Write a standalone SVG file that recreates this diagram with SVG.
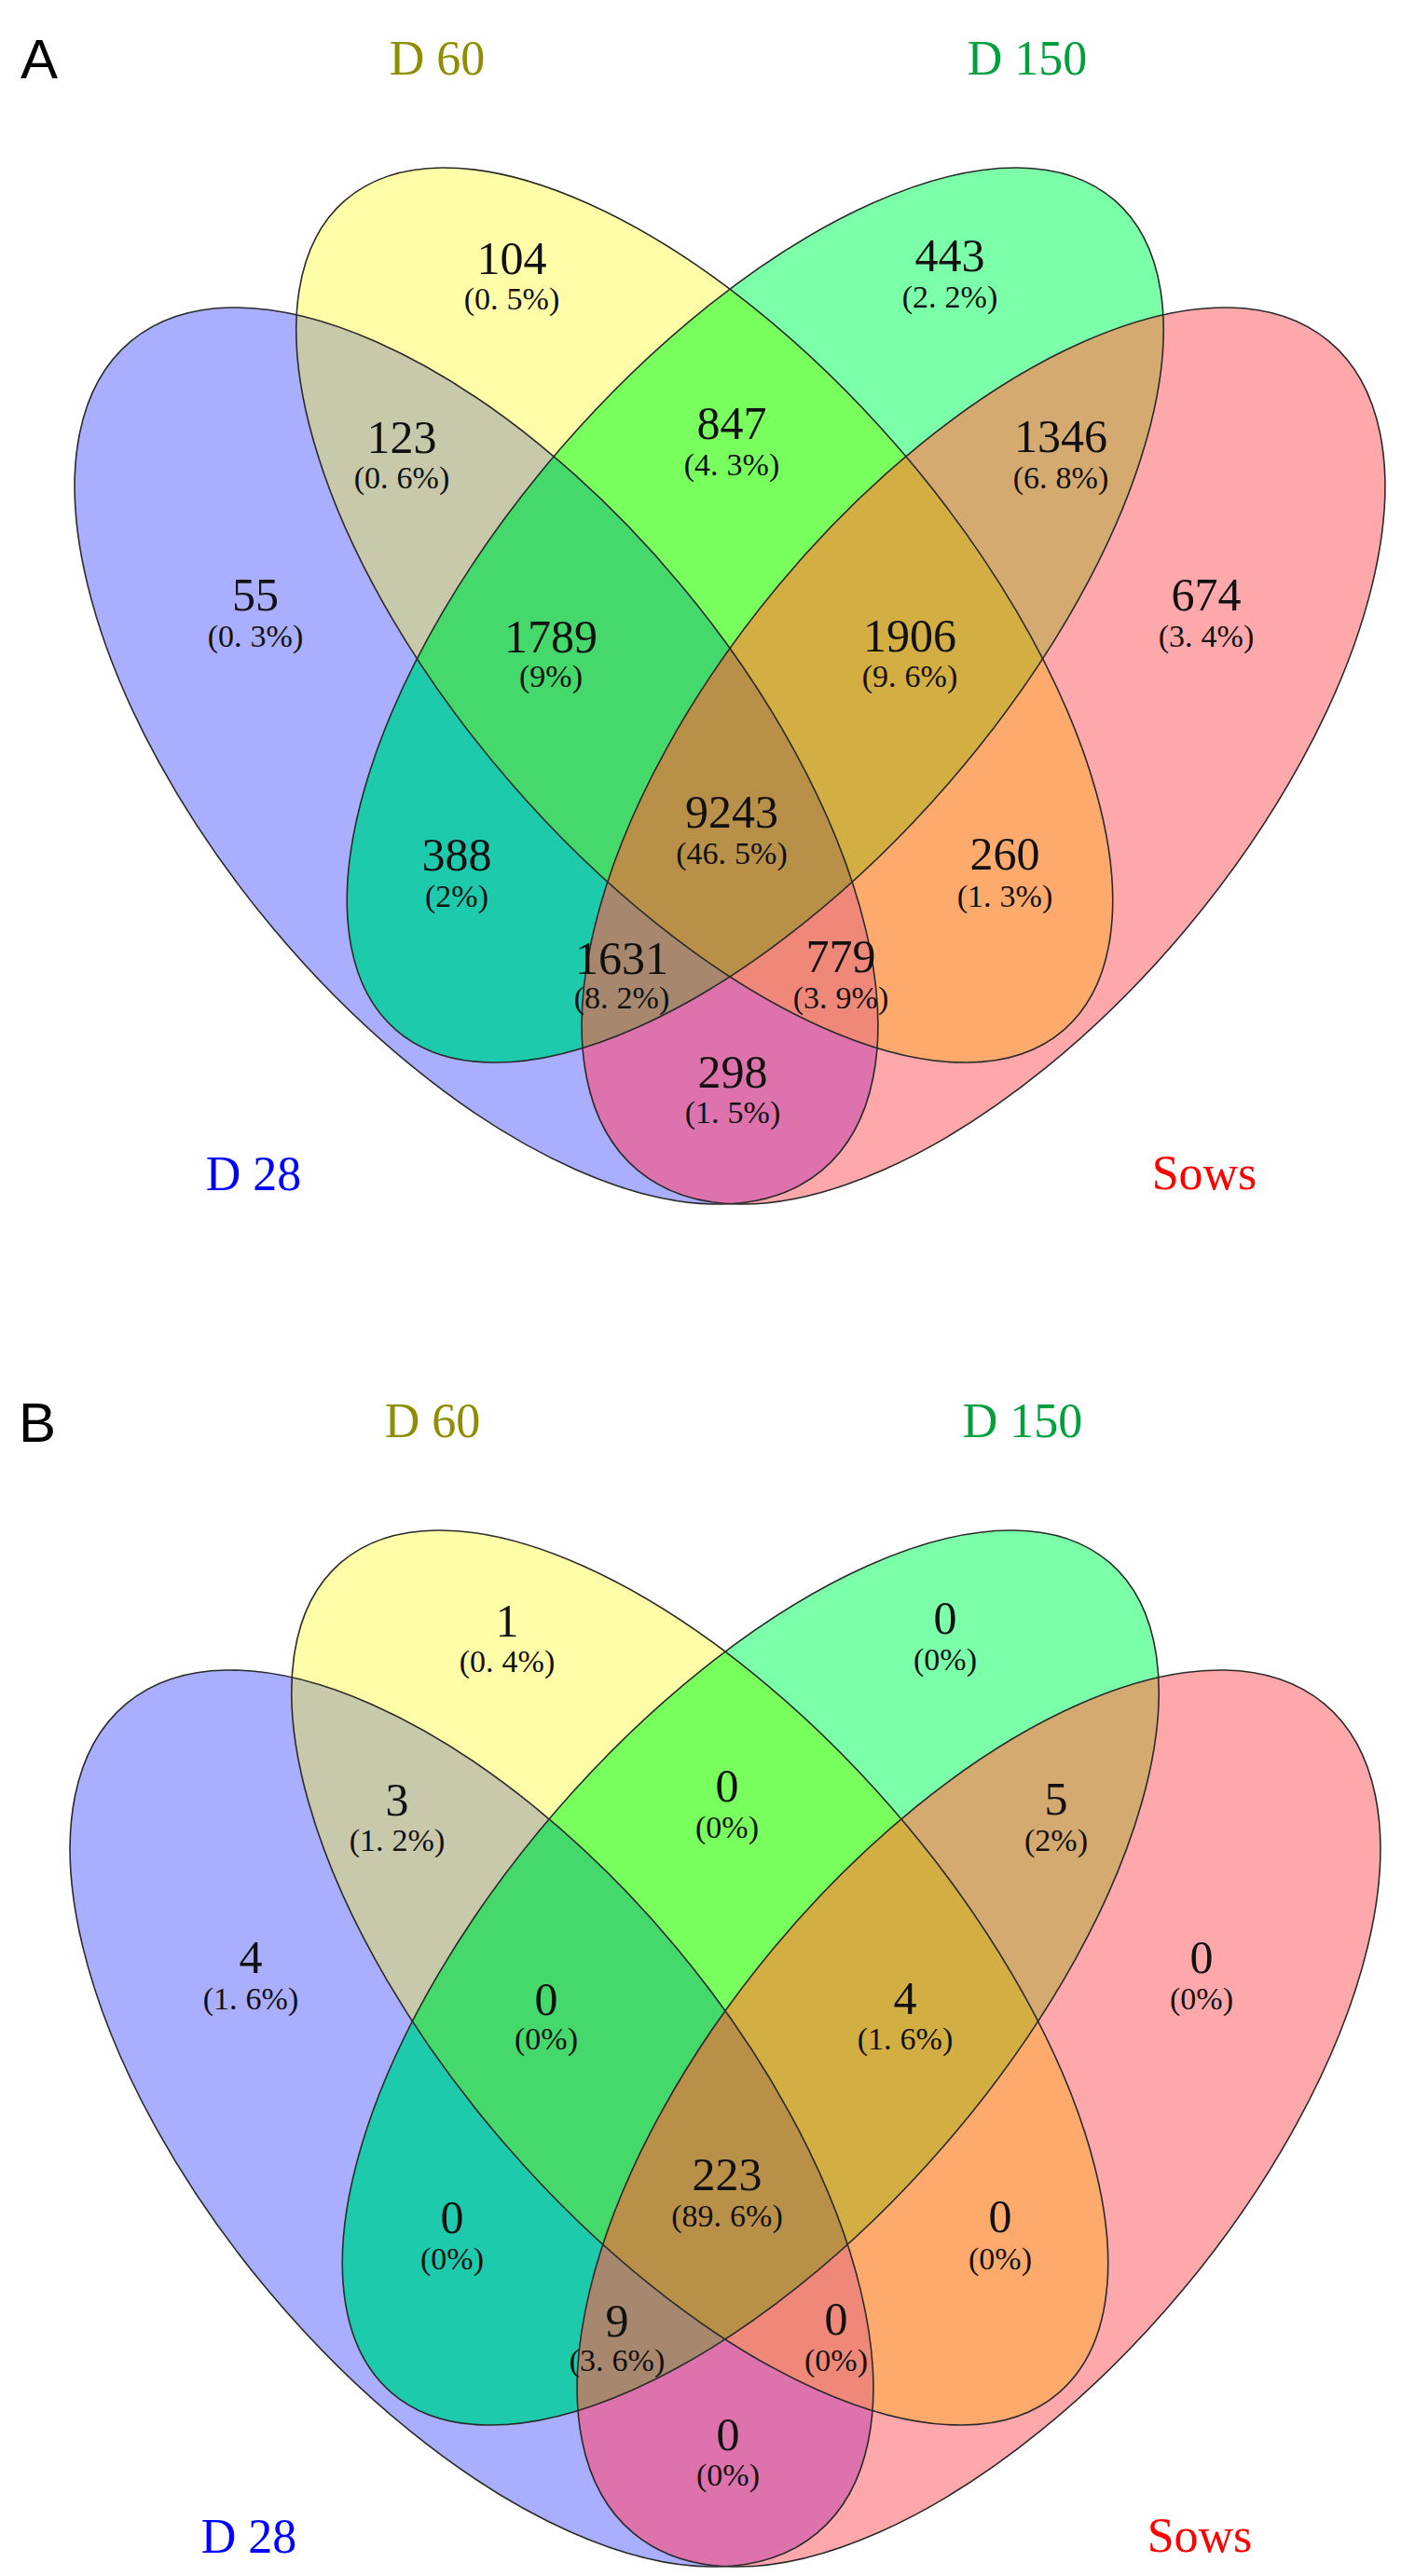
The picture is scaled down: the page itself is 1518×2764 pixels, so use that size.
<svg xmlns="http://www.w3.org/2000/svg" width="1518" height="2764" viewBox="0 0 1518 2764">
<style>
text{font-family:"Liberation Serif","Noto Sans CJK SC",serif}
.n{font-size:50px;text-anchor:middle;fill:#111}
.p{font-size:34px;text-anchor:middle;fill:#111}
.c{font-size:52px;text-anchor:middle}
.lt{font-family:"Liberation Sans",Arial,sans-serif;font-size:60px;fill:#000}
.ol{fill:none;stroke:#2a2a2a;stroke-width:1.6}
</style>
<defs>
<ellipse id="eB" cx="511" cy="811" rx="579" ry="286" transform="rotate(50.2 511 811)"/>
<ellipse id="eY" cx="755.75" cy="660" rx="588.8" ry="274.9" transform="rotate(49.1 755.75 660)"/>
<ellipse id="eG" cx="810.25" cy="660" rx="588.8" ry="274.9" transform="rotate(-49.1 810.25 660)"/>
<ellipse id="eR" cx="1055" cy="811" rx="579" ry="286" transform="rotate(-50.2 1055 811)"/>
<clipPath id="cB"><use href="#eB"/></clipPath>
<clipPath id="cY"><use href="#eY"/></clipPath>
<clipPath id="cG"><use href="#eG"/></clipPath>
<clipPath id="cR"><use href="#eR"/></clipPath>
<g id="vennShapes">
  <g id="fills">
    <use href="#eB" fill="#AAAEFF"/>
    <use href="#eY" fill="#FFFDA8"/>
    <use href="#eG" fill="#7BFFA8"/>
    <use href="#eR" fill="#FFA8AC"/>
    <g clip-path="url(#cB)"><use href="#eY" fill="#C8C8AA"/></g>
    <g clip-path="url(#cB)"><use href="#eG" fill="#1ECAAC"/></g>
    <g clip-path="url(#cB)"><use href="#eR" fill="#DD72AD"/></g>
    <g clip-path="url(#cY)"><use href="#eG" fill="#78FF5E"/></g>
    <g clip-path="url(#cY)"><use href="#eR" fill="#FFAA6D"/></g>
    <g clip-path="url(#cG)"><use href="#eR" fill="#D4AA70"/></g>
    <g clip-path="url(#cB)"><g clip-path="url(#cY)"><use href="#eG" fill="#44D96A"/></g></g>
    <g clip-path="url(#cB)"><g clip-path="url(#cY)"><use href="#eR" fill="#F0887A"/></g></g>
    <g clip-path="url(#cB)"><g clip-path="url(#cG)"><use href="#eR" fill="#A7876E"/></g></g>
    <g clip-path="url(#cY)"><g clip-path="url(#cG)"><use href="#eR" fill="#D3AE42"/></g></g>
    <g clip-path="url(#cB)"><g clip-path="url(#cY)"><g clip-path="url(#cG)"><use href="#eR" fill="#B99047"/></g></g></g>
  </g>
  <g id="outlines">
    <use href="#eB" class="ol"/>
    <use href="#eY" class="ol"/>
    <use href="#eG" class="ol"/>
    <use href="#eR" class="ol"/>
  </g>
</g>
</defs>

<text class="lt" x="22" y="84">A</text>
<text class="lt" x="20" y="1547">B</text>

<g id="panelA">
  <use href="#vennShapes"/>
  <g id="A-cats">
    <text id="A-cat-D60" class="c" x="469" y="80" fill="#8E8E00">D 60</text>
    <text id="A-cat-D150" class="c" x="1102" y="80" fill="#00A03C">D 150</text>
    <text id="A-cat-D28" class="c" x="272" y="1277" fill="#0000FF">D 28</text>
    <text id="A-cat-Sows" class="c" x="1292" y="1276" fill="#FF0000">Sows</text>
  </g>
  <g id="A-D28"><text class="n" x="274" y="655">55</text><text class="p" x="274" y="694">(0.<tspan dx="9">3%)</tspan></text></g>
  <g id="A-D60"><text class="n" x="549" y="294">104</text><text class="p" x="549" y="332">(0.<tspan dx="9">5%)</tspan></text></g>
  <g id="A-D150"><text class="n" x="1019" y="291">443</text><text class="p" x="1019" y="330">(2.<tspan dx="9">2%)</tspan></text></g>
  <g id="A-Sows"><text class="n" x="1294" y="655">674</text><text class="p" x="1294" y="694">(3.<tspan dx="9">4%)</tspan></text></g>
  <g id="A-D28-D60"><text class="n" x="431" y="486">123</text><text class="p" x="431" y="524">(0.<tspan dx="9">6%)</tspan></text></g>
  <g id="A-D60-D150"><text class="n" x="785" y="471">847</text><text class="p" x="785" y="510">(4.<tspan dx="9">3%)</tspan></text></g>
  <g id="A-D150-Sows"><text class="n" x="1138" y="485">1346</text><text class="p" x="1138" y="524">(6.<tspan dx="9">8%)</tspan></text></g>
  <g id="A-D28-D60-D150"><text class="n" x="591" y="700">1789</text><text class="p" x="591" y="737">(9%)</text></g>
  <g id="A-D60-D150-Sows"><text class="n" x="976" y="699">1906</text><text class="p" x="976" y="737">(9.<tspan dx="9">6%)</tspan></text></g>
  <g id="A-D28-D150"><text class="n" x="490" y="934">388</text><text class="p" x="490" y="973">(2%)</text></g>
  <g id="A-all"><text class="n" x="785" y="888">9243</text><text class="p" x="785" y="927">(46.<tspan dx="9">5%)</tspan></text></g>
  <g id="A-D60-Sows"><text class="n" x="1078" y="933">260</text><text class="p" x="1078" y="973">(1.<tspan dx="9">3%)</tspan></text></g>
  <g id="A-D28-D150-Sows"><text class="n" x="667" y="1045">1631</text><text class="p" x="667" y="1082">(8.<tspan dx="9">2%)</tspan></text></g>
  <g id="A-D28-D60-Sows"><text class="n" x="902" y="1043">779</text><text class="p" x="902" y="1082">(3.<tspan dx="9">9%)</tspan></text></g>
  <g id="A-D28-Sows"><text class="n" x="786" y="1167">298</text><text class="p" x="786" y="1205">(1.<tspan dx="9">5%)</tspan></text></g>
</g>

<g id="panelB" transform="translate(-5,1462)">
  <use href="#vennShapes"/>
  <g id="B-cats">
    <text id="B-cat-D60" class="c" x="469" y="80" fill="#8E8E00">D 60</text>
    <text id="B-cat-D150" class="c" x="1102" y="80" fill="#00A03C">D 150</text>
    <text id="B-cat-D28" class="c" x="272" y="1277" fill="#0000FF">D 28</text>
    <text id="B-cat-Sows" class="c" x="1292" y="1276" fill="#FF0000">Sows</text>
  </g>
  <g id="B-D28"><text class="n" x="274" y="655">4</text><text class="p" x="274" y="694">(1.<tspan dx="9">6%)</tspan></text></g>
  <g id="B-D60"><text class="n" x="549" y="294">1</text><text class="p" x="549" y="332">(0.<tspan dx="9">4%)</tspan></text></g>
  <g id="B-D150"><text class="n" x="1019" y="291">0</text><text class="p" x="1019" y="330">(0%)</text></g>
  <g id="B-Sows"><text class="n" x="1294" y="655">0</text><text class="p" x="1294" y="694">(0%)</text></g>
  <g id="B-D28-D60"><text class="n" x="431" y="486">3</text><text class="p" x="431" y="524">(1.<tspan dx="9">2%)</tspan></text></g>
  <g id="B-D60-D150"><text class="n" x="785" y="471">0</text><text class="p" x="785" y="510">(0%)</text></g>
  <g id="B-D150-Sows"><text class="n" x="1138" y="485">5</text><text class="p" x="1138" y="524">(2%)</text></g>
  <g id="B-D28-D60-D150"><text class="n" x="591" y="700">0</text><text class="p" x="591" y="737">(0%)</text></g>
  <g id="B-D60-D150-Sows"><text class="n" x="976" y="699">4</text><text class="p" x="976" y="737">(1.<tspan dx="9">6%)</tspan></text></g>
  <g id="B-D28-D150"><text class="n" x="490" y="934">0</text><text class="p" x="490" y="973">(0%)</text></g>
  <g id="B-all"><text class="n" x="785" y="888">223</text><text class="p" x="785" y="927">(89.<tspan dx="9">6%)</tspan></text></g>
  <g id="B-D60-Sows"><text class="n" x="1078" y="933">0</text><text class="p" x="1078" y="973">(0%)</text></g>
  <g id="B-D28-D150-Sows"><text class="n" x="667" y="1045">9</text><text class="p" x="667" y="1082">(3.<tspan dx="9">6%)</tspan></text></g>
  <g id="B-D28-D60-Sows"><text class="n" x="902" y="1043">0</text><text class="p" x="902" y="1082">(0%)</text></g>
  <g id="B-D28-Sows"><text class="n" x="786" y="1167">0</text><text class="p" x="786" y="1205">(0%)</text></g>
</g>
</svg>
